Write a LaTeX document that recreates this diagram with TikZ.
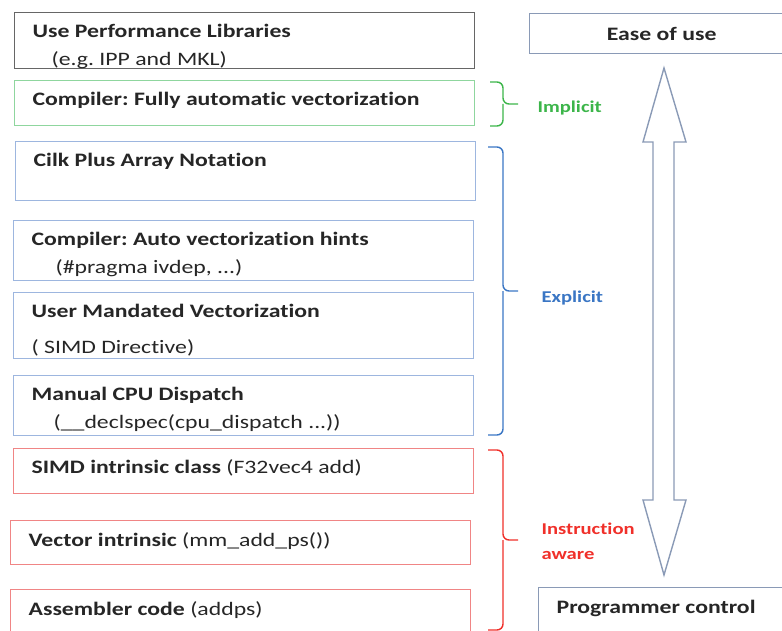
\documentclass[tikz,border=0pt]{standalone}
\usepackage{fontspec}
\setmainfont{Carlito}[FakeStretch=1.25, Ligatures=NoCommon]
\frenchspacing
\usetikzlibrary{positioning}
\definecolor{txt}{HTML}{262626}
\definecolor{libgray}{HTML}{666666}
\definecolor{implicit}{HTML}{3CB54A}
\definecolor{implicitbox}{HTML}{8FD69E}
\definecolor{explicit}{HTML}{3A76C4}
\definecolor{explicitbox}{HTML}{9DB6DF}
\definecolor{instr}{HTML}{F0302A}
\definecolor{instrbox}{HTML}{F08585}
\definecolor{axisgray}{HTML}{8A9AB6}
\newcommand{\tiertext}[2]{\parbox[t][#1][t]{424pt}{\rule{0pt}{15pt}#2}}

\begin{document}
\begin{tikzpicture}[x=1pt, y=-1pt,
  tier/.style={draw=#1, line width=1.3pt, anchor=north west, inner xsep=18pt, inner ysep=10pt,
    text=txt, font=\fontsize{19}{28}\selectfont\bfseries},
  tier/.default=libgray,
  group/.style={font=\fontsize{16.5}{25}\selectfont\bfseries, anchor=west, align=left, text=#1},
  brace/.style={draw=#1, line width=1.4pt, rounded corners=6pt}]
\useasboundingbox (0,0) rectangle (782,631);
\clip (0,0) rectangle (782,631);
% left column
\node[tier] (perf) at (14,12) {\tiertext{36pt}{Use Performance Libraries\\\hspace*{19pt}\textmd{(e.g. IPP and MKL)}}};
\node[tier=implicitbox] (auto) at (14,80) {\tiertext{25pt}{Compiler: Fully automatic vectorization}};
\node[tier=explicitbox] (cilk) at (15,141) {\tiertext{39pt}{Cilk Plus Array Notation}};
\node[tier=explicitbox] (hints) at (13,220) {\tiertext{40pt}{Compiler: Auto vectorization hints\\\hspace*{24pt}\textmd{(\#pragma ivdep, ...)}}};
\node[tier=explicitbox] (simd) at (13,292) {\tiertext{46pt}{User Mandated Vectorization\\[8pt]\textmd{( SIMD Directive)}}};
\node[tier=explicitbox] (dispatch) at (13,375) {\tiertext{40pt}{Manual CPU Dispatch\\\hspace*{22pt}\textmd{(\_\_declspec(cpu\_dispatch ...))}}};
\node[tier=instrbox] (class) at (13,448) {\tiertext{25pt}{SIMD intrinsic class \textmd{(F32vec4 add)}}};
\node[tier=instrbox, inner ysep=11pt] (intrin) at (10,520) {\tiertext{22pt}{Vector intrinsic \textmd{(mm\_add\_ps())}}};
\node[tier=instrbox, inner ysep=11pt] (asm) at (10,589) {\tiertext{40pt}{Assembler code \textmd{(addps)}}};
% groups
\draw[brace=implicit] (490,82) -| (503,104) -- (518,104);
\draw[brace=implicit] (490,126) -| (503,104);
\node[group=implicit] (impl) at (534,108) {Implicit};
\draw[brace=explicit] (488,147) -| (503,291) -- (518,291);
\draw[brace=explicit] (488,435) -| (503,291);
\node[group=explicit] (expl) at (538,298) {Explicit};
\draw[brace=instr] (488,450) -| (503,540) -- (518,540);
\draw[brace=instr] (488,630) -| (503,540);
\node[group=instr] (aware) at (538,541) {Instruction\\aware};
% right column
\node[tier=axisgray, minimum width=264pt, minimum height=40pt, inner sep=0pt] (ease) at (529,13) {Ease of use};
\node[tier=axisgray, inner ysep=11pt] (prog) at (538,587) {\parbox[t][30pt][t]{228pt}{\rule{0pt}{15pt}Programmer control}};
\draw[axisgray, line width=1.4pt, line join=miter]
  (664,68) -- (686,142) -- (674,142) -- (674,500) -- (686,500) -- (664,575)
  -- (643,500) -- (653,500) -- (653,142) -- (643,142) -- cycle;
\end{tikzpicture}
\end{document}
